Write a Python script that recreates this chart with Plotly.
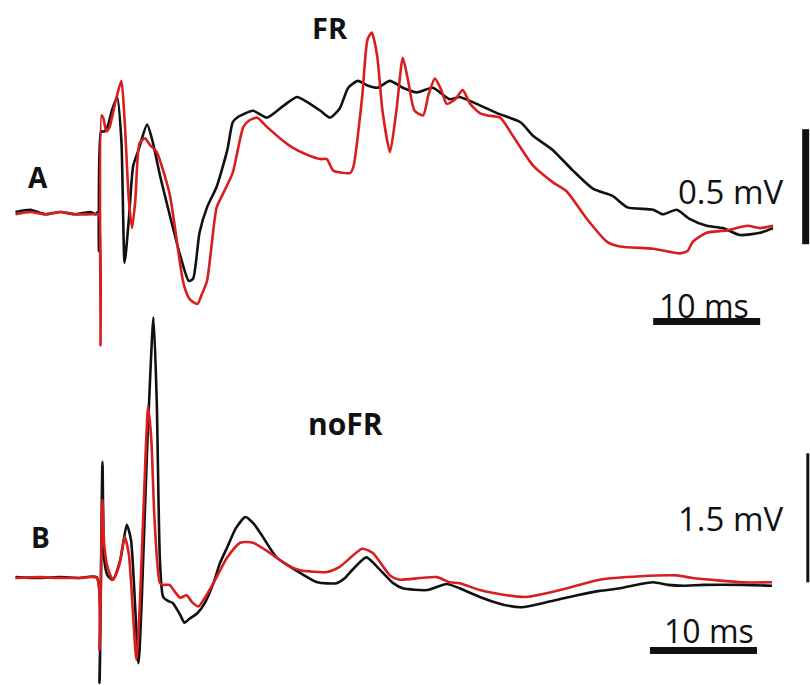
import plotly.graph_objects as go

# ---------------- Panel A (FR) : time in ms, voltage in mV ----------------
tA_black = [-7.9, -6.5, -5.1, -3.7, -2.3, -0.9, -0.4, -0.2, -0.1, 0.1, 0.4, 0.7, 1.1, 1.6, 2.0, 2.3, 2.7,
            3.1, 3.6, 4.4, 4.9, 5.6, 6.5, 7.5, 8.3, 8.7, 9.3, 10.0, 10.9, 11.9, 12.4, 12.8, 14.3, 15.6,
            17.1, 18.4, 19.3, 20.6, 21.5, 22.4, 23.2, 24.1, 25.0, 25.9, 27.1, 28.3, 29.6, 31.1, 32.7,
            33.6, 35.2, 37.1, 39.3, 40.5, 42.3, 44.2, 46.1, 47.9, 49.3, 51.7, 52.6, 53.9, 55.1, 56.7,
            58.2, 59.8, 61.7, 62.9]
vA_black = [0.0, 0.01, -0.01, 0.0, -0.01, 0.0, -0.01, 0.0, -0.17, 0.35, 0.35, 0.37, 0.44, 0.50, 0.31, -0.22,
            -0.03, 0.20, 0.27, 0.38, 0.31, 0.16, -0.01, -0.19, -0.30, -0.29, -0.09, 0.02, 0.11, 0.27, 0.39,
            0.41, 0.44, 0.41, 0.46, 0.50, 0.48, 0.44, 0.41, 0.45, 0.54, 0.57, 0.55, 0.54, 0.57, 0.54, 0.52,
            0.54, 0.49, 0.50, 0.47, 0.43, 0.39, 0.33, 0.27, 0.18, 0.10, 0.07, 0.02, 0.01, -0.01, 0.01,
            -0.03, -0.06, -0.07, -0.10, -0.09, -0.07]

tA_red = [-7.9, -6.5, -5.1, -3.7, -2.3, -0.9, -0.3, -0.1, 0.05, 0.14, 0.3, 0.6, 0.9, 1.5, 2.0, 2.3, 2.7, 3.0,
          3.3, 3.7, 4.2, 4.7, 5.3, 6.5, 7.8, 8.4, 9.1, 9.5, 10.0, 10.9, 11.5, 12.4, 13.4, 14.0, 14.7, 15.6,
          17.1, 18.0, 19.3, 20.6, 21.2, 21.8, 23.4, 23.7, 24.5, 25.0, 25.4, 25.9, 26.4, 27.1, 27.7, 28.3,
          28.8, 29.4, 30.2, 30.7, 31.3, 31.9, 32.4, 33.2, 33.9, 34.6, 35.5, 36.2, 37.4, 38.6, 40.5, 42.3,
          43.6, 45.5, 47.4, 48.6, 51.7, 54.2, 54.9, 55.4, 56.7, 58.6, 60.5, 61.7, 62.9]
vA_red = [-0.01, 0.0, -0.01, 0.0, -0.01, -0.01, -0.01, -0.01, -0.58, 0.42, 0.41, 0.35, 0.37, 0.49, 0.57, 0.40,
          0.05, -0.07, 0.05, 0.30, 0.32, 0.29, 0.26, 0.08, -0.31, -0.38, -0.40, -0.36, -0.30, 0.02, 0.08,
          0.17, 0.37, 0.40, 0.41, 0.37, 0.31, 0.28, 0.25, 0.23, 0.23, 0.18, 0.17, 0.20, 0.50, 0.75, 0.78,
          0.68, 0.44, 0.26, 0.44, 0.67, 0.57, 0.44, 0.42, 0.51, 0.58, 0.53, 0.47, 0.49, 0.53, 0.47, 0.43,
          0.42, 0.41, 0.33, 0.20, 0.13, 0.09, -0.03, -0.13, -0.15, -0.16, -0.18, -0.17, -0.13, -0.09, -0.08,
          -0.06, -0.07, -0.06]

# ---------------- Panel B (noFR) ----------------
tB_black = [-7.9, -5.6, -3.7, -1.9, -0.3, -0.05, 0.23, 0.4, 0.7, 1.2, 1.9, 2.5, 2.9, 3.6, 3.9, 4.4, 5.0, 5.3,
            5.6, 5.9, 6.4, 6.8, 7.5, 7.9, 8.4, 9.1, 9.8, 10.6, 11.2, 11.9, 12.7, 13.6, 14.3, 15.0, 16.5,
            17.8, 18.7, 20.3, 22.1, 22.9, 23.4, 24.9, 25.9, 27.4, 28.3, 30.6, 32.4, 33.6, 35.5, 37.7, 39.4,
            41.8, 44.6, 46.7, 48.6, 50.5, 51.7, 53.1, 54.5, 56.4, 60.1, 62.8]
vB_black = [0.01, 0.0, 0.01, 0.0, 0.01, -1.22, 1.35, 0.21, 0.03, -0.02, 0.21, 0.62, 0.44, -0.99, -0.26, 1.49,
            3.03, 2.07, 0.21, -0.22, -0.27, -0.29, -0.43, -0.52, -0.47, -0.41, -0.29, -0.06, 0.17, 0.36, 0.58,
            0.71, 0.64, 0.52, 0.24, 0.13, 0.06, -0.05, -0.06, 0.0, 0.07, 0.24, 0.13, -0.06, -0.12, -0.14,
            -0.07, -0.12, -0.22, -0.31, -0.34, -0.28, -0.20, -0.15, -0.12, -0.07, -0.05, -0.08, -0.09, -0.08,
            -0.08, -0.09]

tB_red = [-7.9, -5.6, -3.7, -1.9, -0.3, -0.05, 0.23, 0.4, 0.7, 1.2, 1.8, 2.3, 2.7, 3.4, 3.7, 4.1, 4.5, 4.8,
          5.1, 5.6, 5.9, 6.5, 7.0, 7.5, 8.1, 8.6, 9.2, 9.8, 10.6, 11.9, 13.1, 14.3, 15.9, 17.5, 18.7, 21.2,
          22.4, 24.5, 25.5, 27.1, 28.0, 29.9, 31.5, 32.7, 33.6, 35.5, 38.0, 39.9, 43.0, 46.7, 50.5, 53.9,
          55.4, 60.1, 62.8]
vB_red = [0.0, 0.01, 0.0, 0.0, 0.0, -0.84, 0.91, 0.38, 0.13, -0.02, 0.15, 0.48, 0.27, -0.95, -0.37, 0.91,
          1.99, 1.60, 0.67, -0.06, -0.08, -0.08, -0.16, -0.23, -0.20, -0.28, -0.33, -0.23, -0.06, 0.24, 0.41,
          0.41, 0.29, 0.15, 0.09, 0.07, 0.13, 0.34, 0.29, 0.03, -0.02, 0.0, 0.01, -0.05, -0.06, -0.14, -0.20,
          -0.22, -0.14, -0.02, 0.02, 0.03, 0.0, -0.05, -0.05]

# scale bars
SCALE_MS = 10
SCALE_A_MV = 0.5
SCALE_B_MV = 1.5
panel_labels = ["A", "B"]
condition_labels = ["FR", "noFR"]

BLACK = "#111111"
RED = "#d81e1e"
LW = 2.6
SMOOTH = 0.6

fig = go.Figure()
for t, v, c, ax in [(tA_black, vA_black, BLACK, "y"), (tA_red, vA_red, RED, "y"),
                    (tB_black, vB_black, BLACK, "y2"), (tB_red, vB_red, RED, "y2")]:
    fig.add_trace(go.Scatter(x=t, y=v, mode="lines", yaxis=ax, hoverinfo="skip",
                             line=dict(color=c, width=LW, shape="spline", smoothing=SMOOTH)))

W, H = 810, 685
fig.update_layout(
    width=W, height=H, margin=dict(l=0, r=0, t=0, b=0),
    paper_bgcolor="white", plot_bgcolor="white", showlegend=False,
    xaxis=dict(range=[-9.346, 66.355], visible=False, fixedrange=True),
    yaxis=dict(range=[-2.0565, 0.9217], visible=False, domain=[0, 1], fixedrange=True),
    yaxis2=dict(range=[-1.2442, 6.7209], visible=False, overlaying="y", domain=[0, 1], fixedrange=True),
)

# scale bars (axis coordinates)
hbarA_t0, hbarA_y = 51.7, -0.476
vbarA_t, vbarA_v0 = 65.95, -0.14
hbarB_t0, hbarB_y = 51.4, -0.843
vbarB_t, vbarB_v0 = 66.15, -0.05
fig.add_shape(type="line", xref="x", yref="y", x0=hbarA_t0, x1=hbarA_t0 + SCALE_MS, y0=hbarA_y, y1=hbarA_y,
              line=dict(color=BLACK, width=7))
fig.add_shape(type="line", xref="x", yref="y", x0=vbarA_t, x1=vbarA_t, y0=vbarA_v0, y1=vbarA_v0 + SCALE_A_MV,
              line=dict(color=BLACK, width=7))
fig.add_shape(type="line", xref="x", yref="y2", x0=hbarB_t0, x1=hbarB_t0 + SCALE_MS, y0=hbarB_y, y1=hbarB_y,
              line=dict(color=BLACK, width=7))
fig.add_shape(type="line", xref="x", yref="y2", x0=vbarB_t, x1=vbarB_t, y0=vbarB_v0, y1=vbarB_v0 + SCALE_B_MV,
              line=dict(color=BLACK, width=3))

def ann(text, px, py, size, weight=400):
    fig.add_annotation(
        text=text,
        x=px / W, y=1 - py / H, xref="paper", yref="paper",
        xanchor="center", yanchor="middle", showarrow=False, borderpad=0,
        font=dict(family="Open Sans", size=size, color=BLACK, weight=weight),
    )

ann(condition_labels[0], 330, 27, 29, 700)
ann(panel_labels[0], 38, 177, 28, 700)
ann(f"{SCALE_A_MV} mV", 731, 192, 33, 500)
ann(f"{SCALE_MS} ms", 704, 306, 32, 500)
ann(condition_labels[1], 345, 423, 30, 700)
ann(panel_labels[1], 40, 537, 28, 700)
ann(f"{SCALE_B_MV} mV", 731, 518, 33, 500)
ann(f"{SCALE_MS} ms", 709, 630, 32, 500)

# remove the default 8px page margin so the 810x685 figure fills the window exactly
page_fix = ("document.body.style.margin='0';document.body.style.overflow='hidden';"
            "document.documentElement.style.overflow='hidden';")
fig.write_html("out.html", post_script=page_fix, config={"displayModeBar": False})
